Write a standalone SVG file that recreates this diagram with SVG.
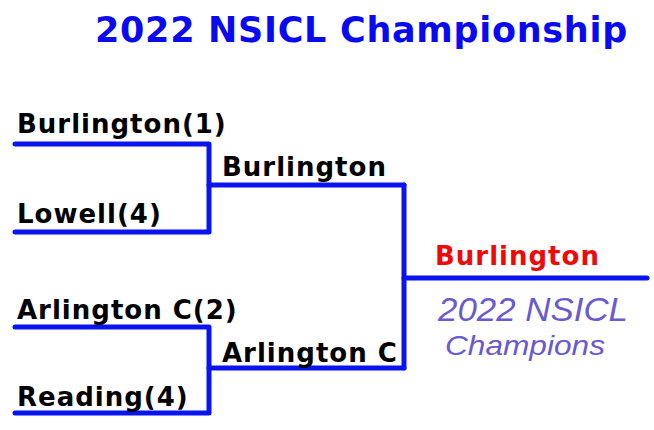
<svg xmlns="http://www.w3.org/2000/svg" width="654" height="430" viewBox="0 0 654 430">
<style>
.team{font-family:"DejaVu Sans",Verdana,sans-serif;font-weight:bold;font-size:26px;letter-spacing:1px;fill:#000}
.title{font-family:"DejaVu Sans",Verdana,sans-serif;font-weight:bold;font-size:35px;letter-spacing:0.7px;fill:#0a0af0}
.champ{fill:#ee0a0a}
.sub{font-family:"Liberation Sans",Arial,sans-serif;font-style:italic;fill:#6a5acd}
.line{fill:none;stroke:#0a14f0;stroke-width:5;stroke-linecap:round;stroke-linejoin:round}
</style>
<rect width="654" height="430" fill="#fff"/>
<g id="title"><text class="title" x="95" y="42">2022 NSICL Championship</text></g>
<g id="connectors">
<path class="line" d="M15,144 H209 V232 H15"/>
<path class="line" d="M209,185 H404"/>
<path class="line" d="M15,327 H209 V413 H15"/>
<path class="line" d="M209,368 H404"/>
<path class="line" d="M404,185 V368"/>
<path class="line" d="M404,278 H647"/>
</g>
<g id="burlington1"><text class="team" x="17" y="133">Burlington(1)</text></g>
<g id="lowell4"><text class="team" x="17" y="223">Lowell(4)</text></g>
<g id="arlingtonc2"><text class="team" x="17" y="319">Arlington C(2)</text></g>
<g id="reading4"><text class="team" x="17" y="406">Reading(4)</text></g>
<g id="semi-burlington"><text class="team" x="222" y="176">Burlington</text></g>
<g id="semi-arlingtonc"><text class="team" x="222" y="362">Arlington C</text></g>
<g id="champion"><text class="team champ" x="435" y="265">Burlington</text></g>
<g id="champions-caption">
<text class="sub" x="438" y="321" font-size="33" textLength="190" lengthAdjust="spacingAndGlyphs">2022 NSICL</text>
<text class="sub" x="445" y="355" font-size="28" textLength="160" lengthAdjust="spacingAndGlyphs">Champions</text>
</g>
</svg>
